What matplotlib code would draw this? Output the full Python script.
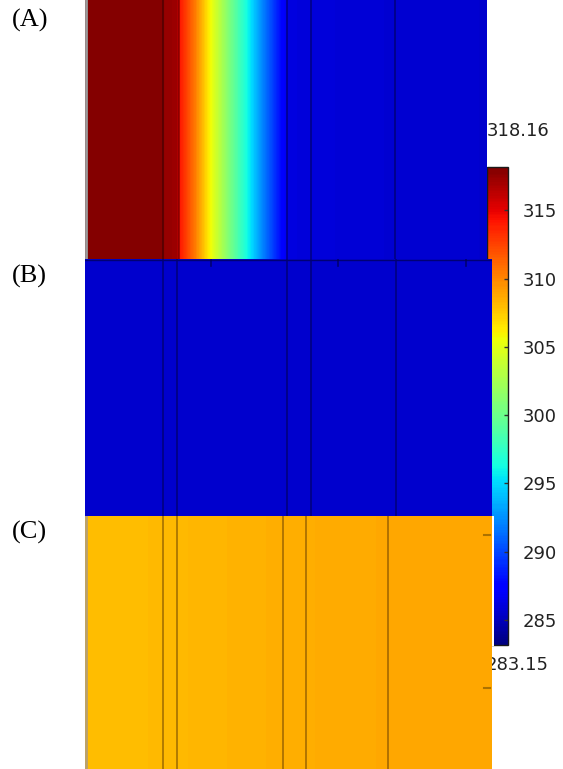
import numpy as np
import matplotlib.pyplot as plt
from matplotlib.patches import Rectangle

# temperature scale (K)
T_MIN, T_MAX = 283.15, 318.16
cbar_ticks = [285, 290, 295, 300, 305, 310, 315]

# (A) temperature along the wall section, position in mm
pos_a = [0, 78, 80, 92, 95, 110, 128, 145, 162, 180, 198, 203, 226, 310, 402]
temp_a = [318.0, 318.0, 317.4, 317.3, 314.2, 310.5, 305.0, 300.5, 296.3, 291.5, 287.3, 286.2, 285.9, 285.7, 285.6]
layers_a = [78.5, 94, 202.5, 226, 310]

# (B) uniform cold state
pos_b = [0, 407]
temp_b = [285.5, 285.5]
layers_b = [78.3, 92.3, 202.3, 226, 310.7]
marks_b = [126, 252.7, 380.7]

# (C) warm state
pos_c = [0, 200, 406]
temp_c = [307.9, 308.5, 308.9]
layers_c = [77.6, 91.7, 198, 220.6, 303]

W, H = 563, 769
levels = np.linspace(T_MIN, T_MAX, 300)

fig = plt.figure(figsize=(W / 100, H / 100), dpi=100)


def box(x0, y0, x1, y1):
    return [x0 / W, 1 - y1 / H, (x1 - x0) / W, (y1 - y0) / H]


def field(rect, pos, temp, layers, z, edge=None, line_col=(0, 0, 0, 0.35)):
    ax = fig.add_axes(rect, zorder=z)
    zz = np.vstack([temp, temp])
    cs = ax.contourf(pos, [0, 1], zz, levels=levels, cmap='jet',
                     vmin=T_MIN, vmax=T_MAX)
    for x in layers:
        ax.axvline(x, color=line_col, lw=1.3)
    if edge is not None:
        ax.axvline(0.6, color=edge, lw=2)
    ax.set_xlim(pos[0], pos[-1])
    ax.set_ylim(0, 1)
    ax.axis('off')
    return ax, cs


ax_a, cs = field(box(85, 0, 486.7, 259), pos_a, temp_a, layers_a, 2, edge='#9a9a9a')
ax_b, _ = field(box(85, 259, 492, 516), pos_b, temp_b, layers_b, 3,
                line_col=(0, 0, 0.25, 0.5))
ax_b.axhline(0.997, color=(0, 0, 0.45), lw=1)
for x in marks_b:
    ax_b.plot([x, x], [1, 0.972], color=(0, 0, 0.3, 0.7), lw=1.2)
ax_c, _ = field(box(85, 516, 491.5, 769), pos_c, temp_c, layers_c, 4, edge='#b8a070',
                line_col=(0.35, 0.2, 0, 0.5))
for y in [0.925, 0.32]:
    ax_c.plot([399, 405], [y, y], color=(0.45, 0.3, 0, 0.6), lw=1.5)

# colour bar sitting behind the lower panels
cax = fig.add_axes(box(487.3, 167.3, 507.7, 645), zorder=1)
cb = fig.colorbar(cs, cax=cax, ticks=cbar_ticks)
cb.ax.set_ylim(T_MIN, T_MAX)
cb.outline.set_edgecolor('#1a1a1a')
cb.outline.set_linewidth(1.0)
cax.tick_params(direction='in', length=3, width=1, color='#333333',
                labelsize=13, labelcolor='#222222', pad=11)

# white margin of panel C over the bar
fig.add_artist(Rectangle((491.5 / W, 1 - 646 / H), 2.5 / W, 130 / H,
                         transform=fig.transFigure, facecolor='white',
                         edgecolor='none', zorder=3.5))

fig.text(487 / W, 1 - 131 / H, '318.16', fontsize=13, color='#222222',
         ha='left', va='center', zorder=0)
fig.text(486 / W, 1 - 665 / H, '283.15', fontsize=13, color='#222222',
         ha='left', va='center', zorder=0)

for lab, y in [('(A)', 20), ('(B)', 276), ('(C)', 532)]:
    fig.text(12 / W, 1 - y / H, lab, fontsize=19, family='Liberation Serif',
             ha='left', va='center')

fig.savefig('out.png', dpi=100)
